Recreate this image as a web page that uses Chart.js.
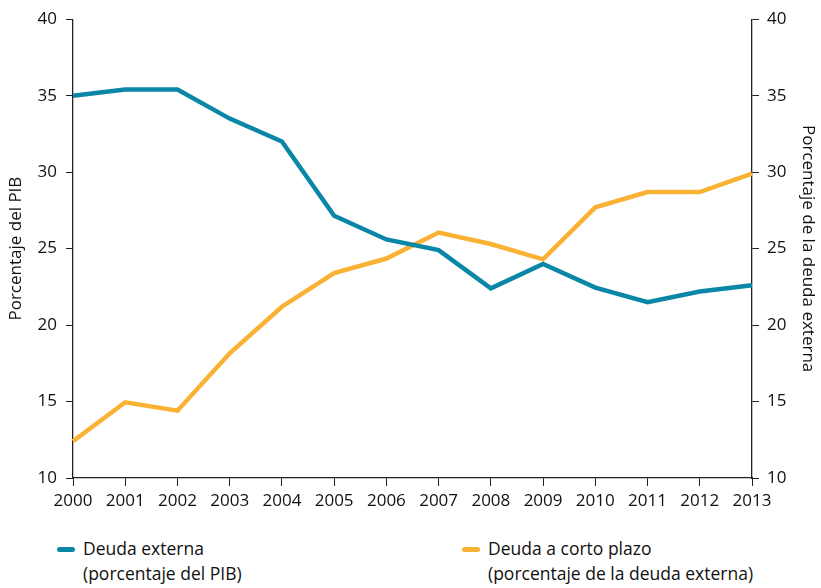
<!DOCTYPE html>
<html>
<head>
<meta charset="utf-8">
<script src="https://cdn.jsdelivr.net/npm/chart.js@4.4.0/dist/chart.umd.min.js"></script>
<style>
    body { margin: 0; background: #fff; font-family: "Open Sans", sans-serif; }
    #wrap { position: relative; width: 821px; height: 520px; }
    .leyenda { position: absolute; top: 536px; font-size: 17.5px; line-height: 25px; color: #111; }
    .leyenda .muestra { position: absolute; left: 0; top: 11px; width: 18px; height: 5px; border-radius: 3px; }
    .leyenda .texto { margin-left: 26px; white-space: nowrap; }
</style>
</head>
<body>
<div id="wrap"><canvas id="grafico"></canvas></div>
<div class="leyenda" style="left:57px;"><span class="muestra" style="background:#0a87a6"></span><div class="texto">Deuda externa<br>(porcentaje del PIB)</div></div>
<div class="leyenda" style="left:462px;"><span class="muestra" style="background:#f9b233"></span><div class="texto">Deuda a corto plazo<br>(porcentaje de la deuda externa)</div></div>
<script>
var anios = ["2000", "2001", "2002", "2003", "2004", "2005", "2006", "2007", "2008", "2009", "2010", "2011", "2012", "2013"];
var deudaExterna = [35.0, 35.4, 35.4, 33.5, 32.0, 27.15, 25.6, 24.9, 22.4, 24.0, 22.45, 21.5, 22.2, 22.6];
var deudaCortoPlazo = [12.4, 14.95, 14.4, 18.15, 21.2, 23.4, 24.35, 26.05, 25.3, 24.3, 27.7, 28.7, 28.7, 29.9];

var fuente = { family: "Open Sans", size: 17 };
var colorEje = "#222";

new Chart(document.getElementById("grafico"), {
    type: "line",
    data: {
        labels: anios,
        datasets: [
            {
                label: "Deuda externa (porcentaje del PIB)",
                data: deudaExterna,
                yAxisID: "y",
                borderColor: "#0a87a6",
                backgroundColor: "#0a87a6",
                borderWidth: 4.5,
                pointRadius: 0,
                tension: 0,
            },
            {
                label: "Deuda a corto plazo (porcentaje de la deuda externa)",
                data: deudaCortoPlazo,
                yAxisID: "y2",
                borderColor: "#f9b233",
                backgroundColor: "#f9b233",
                borderWidth: 4.5,
                pointRadius: 0,
                tension: 0,
            },
        ],
    },
    options: {
        responsive: true,
        maintainAspectRatio: false,
        animation: false,
        layout: { padding: { top: 18, left: 0, right: 0, bottom: 0 } },
        plugins: {
            legend: { display: false },
            tooltip: { enabled: false },
        },
        scales: {
            x: {
                offset: false,
                grid: { display: true, drawOnChartArea: false, drawTicks: true, tickLength: 8, color: colorEje },
                border: { display: true, color: colorEje, width: 1.3 },
                ticks: { color: "#111", font: fuente, padding: 5, maxRotation: 0, autoSkip: false },
                afterFit: function (scale) { scale.height = 42; },
            },
            y: {
                position: "left",
                min: 10,
                max: 40,
                grid: { display: true, drawOnChartArea: false, drawTicks: true, tickLength: 7, color: colorEje },
                border: { display: true, color: colorEje, width: 1.3 },
                ticks: { stepSize: 5, color: "#111", font: fuente, padding: 9 },
                title: { display: true, text: "Porcentaje del PIB", color: "#111", font: fuente, padding: { top: 6, bottom: 0 } },
                afterFit: function (scale) { scale.width = 73; },
            },
            y2: {
                position: "right",
                min: 10,
                max: 40,
                grid: { display: true, drawOnChartArea: false, drawTicks: true, tickLength: 7, color: colorEje },
                border: { display: true, color: colorEje, width: 1.3 },
                ticks: { stepSize: 5, color: "#111", font: fuente, padding: 8 },
                title: { display: true, text: "Porcentaje de la deuda externa", color: "#111", font: fuente, padding: { top: 3, bottom: 0 } },
                afterFit: function (scale) { scale.width = 69; },
            },
        },
    },
});
</script>
</body>
</html>
